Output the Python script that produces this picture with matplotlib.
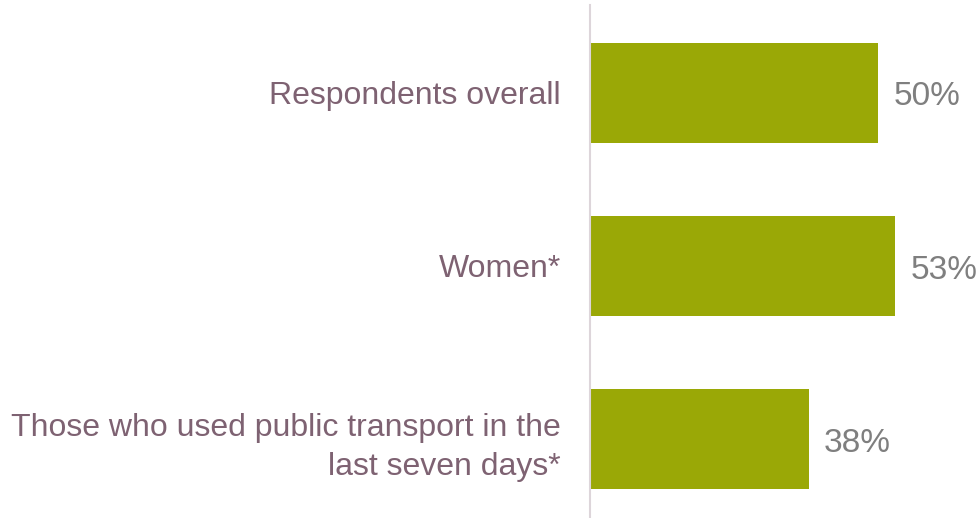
import matplotlib.pyplot as plt

plt.rcParams['font.family'] = ['Liberation Sans', 'DejaVu Sans']

categories = ['Respondents overall', 'Women*',
              'Those who used public transport in the\nlast seven days*']
values = [50, 53, 38]
value_labels = ['50%', '53%', '38%']

bar_color = '#9AA806'
cat_color = '#7E6272'
val_color = '#7F7F7F'

fig = plt.figure(figsize=(9.77, 5.18), dpi=100)
ax = fig.add_axes([590 / 977, 0, 1 - 590 / 977, 513 / 518])

pos = list(range(len(categories)))
ax.barh(pos, values, height=0.58, color=bar_color)

# percentage labels just right of each bar end
for y, v, lab in zip(pos, values, value_labels):
    ax.annotate(lab, (v, y), xytext=(11, -3), textcoords='offset points',
                va='center', ha='left', fontsize=24, color=val_color)

ax.set_xlim(0, 67.2)
ax.set_ylim(2.456, -0.507)
ax.set_yticks(pos)
ax.set_yticklabels(categories, fontsize=23, color=cat_color,
                   linespacing=1.4, ha='right')
ax.tick_params(axis='y', length=0, pad=21)
ax.set_xticks([])

for s in ['top', 'right', 'bottom']:
    ax.spines[s].set_visible(False)
ax.spines['left'].set_color('#DDD5DA')
ax.spines['left'].set_linewidth(1.5)

fig.savefig('out.png', dpi=100)
